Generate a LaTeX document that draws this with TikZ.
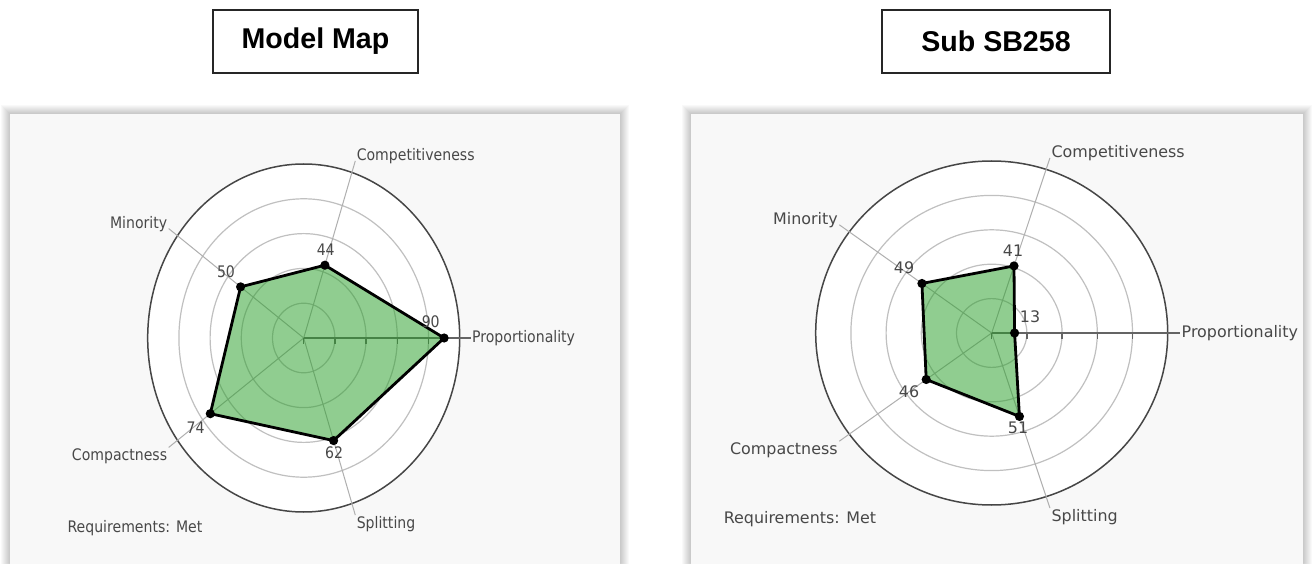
\documentclass[tikz,border=0pt]{standalone}
\usepackage{fontspec}
\newfontfamily\labfont{DejaVu Sans}
\newfontfamily\titlefont{Liberation Sans}
\definecolor{panelbg}{RGB}{248,248,248}
\definecolor{outerc}{RGB}{70,70,70}
\definecolor{gridc}{RGB}{192,192,192}
\definecolor{axisc}{RGB}{175,175,175}
\definecolor{propc}{RGB}{100,100,100}
\definecolor{polyg}{RGB}{44,160,44}
\definecolor{txtc}{RGB}{72,72,72}
\tikzset{
  outerring/.style={draw=outerc, line width=1.5pt, fill=white},
  gridring/.style={draw=gridc, line width=1.2pt},
  spoke/.style={draw=axisc, line width=1pt},
  propaxis/.style={draw=propc, line width=2pt},
  tickmark/.style={draw=propc, line width=1.4pt},
  area/.style={fill=polyg, fill opacity=0.52},
  outline/.style={draw=black, line width=2.8pt, line join=round},
  dot/.style={fill=black},
  axlabel/.style={font=\labfont\fontsize{15.9}{18}\selectfont, text=txtc, inner sep=1.5pt},
  vallabel/.style={font=\labfont\fontsize{15.9}{18}\selectfont, text=txtc, inner sep=0pt},
  titlebox/.style={draw=black!85, line width=1.1pt, minimum height=63pt, inner sep=0pt,
    font=\titlefont\bfseries\fontsize{28.6}{32}\selectfont},
  panel/.style={fill=panelbg},
  shade/.style={fill=black, opacity=0.025}
}
\begin{document}
\begin{tikzpicture}[x=1pt, y=1pt]
\useasboundingbox (0,0) rectangle (1315,563);
\fill[white] (0,0) rectangle (1315,563);

% titles
\node[titlebox, minimum width=205pt] (t1) at (315.5,521.5) {Model Map};
\node[titlebox, minimum width=228pt] (t2) at (996,521.5) {Sub SB258};

% panels with soft shadow
\foreach \i in {1,...,9} {
  \fill[shade] (10-\i, -20) rectangle (620+\i, 449+\i);
  \fill[shade] (691-\i, -20) rectangle (1303+\i, 449+\i);
}
\fill[panel] (10,-20) rectangle (620,449);
\fill[panel] (691,-20) rectangle (1303,449);

% ---------------- left chart ----------------
\begin{scope}[shift={(303.7pt,225pt)}, x=156pt, y=174pt]
  \draw[outerring] (0,0) circle [radius=1];
  \foreach \r in {0.2,0.4,0.6,0.8} \draw[gridring] (0,0) circle [radius=\r];
  \coordinate (LO) at (0,0);
  \coordinate (LaP) at (0:1.07);
  \coordinate (LaC) at (72:1.07);
  \coordinate (LaM) at (144:1.07);
  \coordinate (LaK) at (216:1.07);
  \coordinate (LaS) at (288:1.07);
  \draw[spoke] (LO) -- (LaC);
  \draw[spoke] (LO) -- (LaM);
  \draw[spoke] (LO) -- (LaK);
  \draw[spoke] (LO) -- (LaS);
  \draw[propaxis] (LO) -- (LaP);
  \foreach \t in {0,0.2,0.4,0.6,0.8} \draw[tickmark] (\t,0) -- ++(0pt,-6pt);
  \coordinate (LdP) at (0:0.90);
  \coordinate (LdC) at (72:0.44);
  \coordinate (LdM) at (144:0.50);
  \coordinate (LdK) at (216:0.74);
  \coordinate (LdS) at (288:0.62);
  \fill[area] (LdP) -- (LdC) -- (LdM) -- (LdK) -- (LdS) -- cycle;
  \draw[outline] (LdP) -- (LdC) -- (LdM) -- (LdK) -- (LdS) -- cycle;
  \foreach \p in {LdP,LdC,LdM,LdK,LdS} \fill[dot] (\p) circle (4.6pt);
  \node[axlabel, xscale=0.885, anchor=base west] (LlC) at (LaC) {Competitiveness};
  \node[axlabel, xscale=0.885, anchor=base east] (LlM) at (LaM) {Minority};
  \node[axlabel, xscale=0.885, anchor=west] (LlP) at (LaP) {Proportionality};
  \node[axlabel, xscale=0.885, anchor=north east] (LlK) at (LaK) {Compactness};
  \node[axlabel, xscale=0.885, anchor=north west] (LlS) at (LaS) {Splitting};
\end{scope}
\node[vallabel, xscale=0.885] (LvC) at (325.7,313) {44};
\node[vallabel, xscale=0.885] (LvM) at (226,291) {50};
\node[vallabel, xscale=0.885] (LvP) at (430.7,241.3) {90};
\node[vallabel, xscale=0.885] (LvK) at (195.7,135.3) {74};
\node[vallabel, xscale=0.885] (LvS) at (334,110) {62};
\node[axlabel, xscale=0.885] (Lreq) at (135,35) {Requirements: Met};

% ---------------- right chart ----------------
\begin{scope}[shift={(991.7pt,230pt)}, x=176pt, y=172pt]
  \draw[outerring] (0,0) circle [radius=1];
  \foreach \r in {0.2,0.4,0.6,0.8} \draw[gridring] (0,0) circle [radius=\r];
  \coordinate (RO) at (0,0);
  \coordinate (RaP) at (0:1.07);
  \coordinate (RaC) at (72:1.07);
  \coordinate (RaM) at (144:1.07);
  \coordinate (RaK) at (216:1.07);
  \coordinate (RaS) at (288:1.07);
  \draw[spoke] (RO) -- (RaC);
  \draw[spoke] (RO) -- (RaM);
  \draw[spoke] (RO) -- (RaK);
  \draw[spoke] (RO) -- (RaS);
  \draw[propaxis] (RO) -- (RaP);
  \foreach \t in {0,0.2,0.4,0.6,0.8} \draw[tickmark] (\t,0) -- ++(0pt,-6pt);
  \coordinate (RdP) at (0:0.13);
  \coordinate (RdC) at (72:0.41);
  \coordinate (RdM) at (144:0.49);
  \coordinate (RdK) at (216:0.46);
  \coordinate (RdS) at (288:0.51);
  \fill[area] (RdP) -- (RdC) -- (RdM) -- (RdK) -- (RdS) -- cycle;
  \draw[outline] (RdP) -- (RdC) -- (RdM) -- (RdK) -- (RdS) -- cycle;
  \foreach \p in {RdP,RdC,RdM,RdK,RdS} \fill[dot] (\p) circle (4.6pt);
  \node[axlabel, anchor=base west] (RlC) at (RaC) {Competitiveness};
  \node[axlabel, anchor=base east] (RlM) at (RaM) {Minority};
  \node[axlabel, anchor=west] (RlP) at (RaP) {Proportionality};
  \node[axlabel, anchor=north east] (RlK) at (RaK) {Compactness};
  \node[axlabel, anchor=north west] (RlS) at (RaS) {Splitting};
\end{scope}
\node[vallabel] (RvC) at (1013,312) {41};
\node[vallabel] (RvM) at (904,295) {49};
\node[vallabel] (RvP) at (1030,246) {13};
\node[vallabel] (RvK) at (909,171) {46};
\node[vallabel] (RvS) at (1018,135) {51};
\node[axlabel] (Rreq) at (800,44) {Requirements: Met};
\end{tikzpicture}
\end{document}
